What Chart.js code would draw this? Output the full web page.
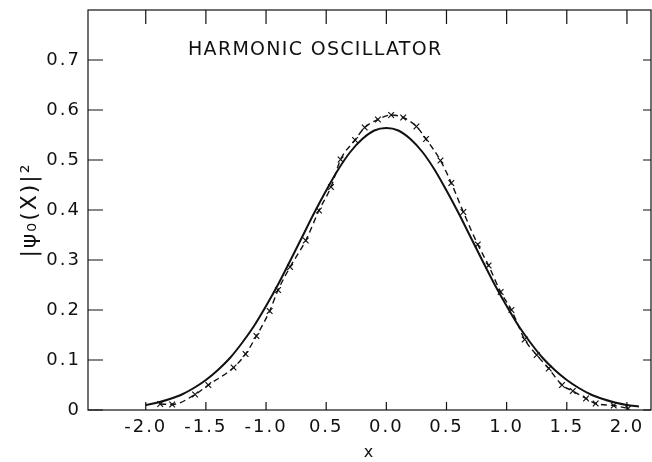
<!DOCTYPE html>
<html>
<head>
<meta charset="utf-8">
<script src="https://cdn.jsdelivr.net/npm/chart.js@4/dist/chart.umd.min.js"></script>
<style>
html,body{margin:0;padding:0;background:#fff;}
#wrap{width:652px;height:462px;position:relative;}
</style>
</head>
<body>
<div id="wrap"><canvas id="c"></canvas></div>
<script>
// ---- data ----
const solidX = [-2.0,-1.9,-1.8,-1.7,-1.6,-1.5,-1.4,-1.3,-1.2,-1.1,-1.0,-0.9,-0.8,-0.7,-0.6,-0.5,-0.4,-0.3,-0.2,-0.1,0.0,0.1,0.2,0.3,0.4,0.5,0.6,0.7,0.8,0.9,1.0,1.1,1.2,1.3,1.4,1.5,1.6,1.7,1.8,1.9,2.0,2.1];
const solidY = [0.010,0.015,0.022,0.031,0.044,0.060,0.080,0.104,0.134,0.168,0.208,0.251,0.298,0.346,0.394,0.439,0.481,0.516,0.542,0.559,0.564,0.559,0.542,0.516,0.481,0.439,0.394,0.346,0.298,0.251,0.208,0.168,0.134,0.104,0.080,0.060,0.044,0.031,0.022,0.015,0.010,0.007];

const dashX = [-1.88,-1.78,-1.59,-1.48,-1.27,-1.17,-1.08,-0.97,-0.90,-0.80,-0.67,-0.56,-0.46,-0.38,-0.26,-0.18,-0.07,0.04,0.14,0.25,0.33,0.45,0.54,0.64,0.76,0.85,0.95,1.04,1.15,1.25,1.35,1.46,1.55,1.66,1.74,1.89,2.01];
const dashY = [0.012,0.011,0.031,0.050,0.085,0.112,0.148,0.198,0.240,0.286,0.339,0.399,0.446,0.501,0.540,0.565,0.581,0.590,0.585,0.567,0.542,0.499,0.454,0.396,0.331,0.289,0.236,0.200,0.141,0.110,0.083,0.050,0.038,0.023,0.013,0.009,0.003];

const xTickValues = [-2.0,-1.5,-1.0,-0.5,0.0,0.5,1.0,1.5,2.0];
const xTickLabels = ["-2.0","-1.5","-1.0","0.5","0.0","0.5","1.0","1.5","2.0"];
const yTickValues = [0,0.1,0.2,0.3,0.4,0.5,0.6,0.7];
const yTickLabels = ["0","0.1","0.2","0.3","0.4","0.5","0.6","0.7"];

const titleText = "HARMONIC OSCILLATOR";
const yTitle = "|\u03c8\u2080(X)|\u00b2";
const xTitle = "x";

const FONT = "'DejaVu Sans', 'Liberation Sans', sans-serif";

const framePlugin = {
  id: 'frame',
  beforeDraw(chart) {
    chart.ctx.letterSpacing = '2px';
  },
  afterDraw(chart) {
    const {ctx, chartArea: a, scales} = chart;
    const xs = scales.x, ys = scales.y;
    ctx.save();
    ctx.strokeStyle = '#111';
    ctx.lineWidth = 1.2;
    ctx.strokeRect(a.left, a.top, a.right - a.left, a.bottom - a.top);
    ctx.beginPath();
    xTickValues.forEach(v => {
      const px = xs.getPixelForValue(v);
      ctx.moveTo(px, a.top); ctx.lineTo(px, a.top + 14);
      ctx.moveTo(px, a.bottom); ctx.lineTo(px, a.bottom - 8);
    });
    yTickValues.forEach(v => {
      const py = ys.getPixelForValue(v);
      ctx.moveTo(a.left, py); ctx.lineTo(a.left + 15, py);
      ctx.moveTo(a.right, py); ctx.lineTo(a.right - 8, py);
    });
    ctx.stroke();
    ctx.fillStyle = '#111';
    ctx.letterSpacing = '1.3px';
    ctx.font = "19px " + FONT;
    ctx.textBaseline = 'middle';
    ctx.textAlign = 'left';
    ctx.fillText(titleText, 188, 50);
    ctx.restore();
  }
};

new Chart(document.getElementById('c'), {
  type: 'scatter',
  data: {
    datasets: [
      {
        label: 'exact',
        data: solidX.map((x, i) => ({x: x, y: solidY[i]})),
        showLine: true,
        borderColor: '#111',
        borderWidth: 2,
        pointRadius: 0,
        cubicInterpolationMode: 'monotone'
      },
      {
        label: 'approx',
        data: dashX.map((x, i) => ({x: x, y: dashY[i]})),
        showLine: true,
        borderColor: '#111',
        borderWidth: 1.4,
        borderDash: [6, 4],
        pointStyle: 'crossRot',
        pointRadius: 4,
        pointBorderWidth: 1.2,
        pointBorderColor: '#111',
        cubicInterpolationMode: 'monotone'
      }
    ]
  },
  options: {
    responsive: true,
    maintainAspectRatio: false,
    animation: false,
    layout: {autoPadding: false, padding: {left: 0, right: 1, top: 10, bottom: 0}},
    plugins: {legend: {display: false}, tooltip: {enabled: false}},
    scales: {
      x: {
        type: 'linear', min: -2.48, max: 2.2,
        afterBuildTicks: s => { s.ticks = xTickValues.map(v => ({value: v})); },
        afterFit: s => { s.height = 52; s.paddingLeft = 0; s.paddingRight = 0; },
        grid: {display: false, drawTicks: false},
        border: {display: false},
        ticks: {
          padding: 7, color: '#111', font: {family: FONT, size: 18},
          maxRotation: 0, autoSkip: false,
          callback: (v) => { const i = xTickValues.findIndex(t => Math.abs(t - v) < 1e-6); return i >= 0 ? xTickLabels[i] : ''; }
        },
        title: {display: true, text: xTitle, color: '#111', font: {family: FONT, size: 16}, padding: {top: 0, bottom: 0}}
      },
      y: {
        type: 'linear', min: 0, max: 0.8,
        afterBuildTicks: s => { s.ticks = yTickValues.map(v => ({value: v})); },
        afterFit: s => { s.width = 88; s.paddingTop = 0; s.paddingBottom = 0; },
        grid: {display: false, drawTicks: false},
        border: {display: false},
        ticks: {
          padding: 7, color: '#111', font: {family: FONT, size: 18},
          callback: (v) => { const i = yTickValues.findIndex(t => Math.abs(t - v) < 1e-6); return i >= 0 ? yTickLabels[i] : ''; }
        },
        title: {display: true, text: yTitle, color: '#111', font: {family: FONT, size: 22}, padding: {top: 17, bottom: 0}}
      }
    }
  },
  plugins: [framePlugin]
});
</script>
</body>
</html>
